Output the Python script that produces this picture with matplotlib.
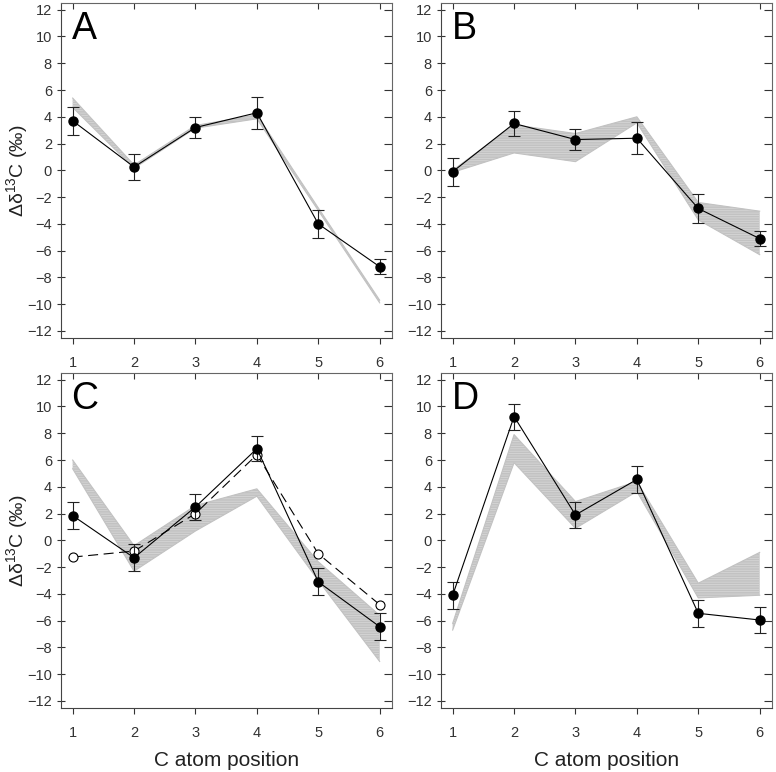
import numpy as np
import matplotlib
matplotlib.use("Agg")
import matplotlib.pyplot as plt

plt.rcParams['font.family'] = ['Liberation Sans Narrow', 'Liberation Sans', 'DejaVu Sans']
plt.rcParams['mathtext.default'] = 'regular'
plt.rcParams['hatch.linewidth'] = 0.6

# ------------------------------------------------------------------
# Data
# ------------------------------------------------------------------
positions = [1, 2, 3, 4, 5, 6]

a_mean = [3.7, 0.25, 3.2, 4.3, -4.0, -7.2]
a_err = [1.05, 0.95, 0.76, 1.2, 1.05, 0.55]
a_band_hi = [5.4, 0.4, 3.35, 4.15, -2.8, -9.7]
a_band_lo = [4.7, 0.15, 3.15, 3.85, -3.0, -9.9]

b_mean = [-0.1, 3.5, 2.3, 2.4, -2.85, -5.1]
b_err = [1.05, 0.97, 0.78, 1.2, 1.06, 0.58]
b_band_hi = [0.0, 3.4, 2.75, 4.0, -2.4, -3.05]
b_band_lo = [-0.15, 1.3, 0.65, 3.55, -3.7, -6.3]

c_mean = [1.85, -1.3, 2.5, 6.85, -3.1, -6.45]
c_err = [1.0, 1.0, 1.0, 0.95, 1.0, 1.0]
c_open = [-1.25, -0.8, 2.0, 6.4, -1.0, -4.8]
c_band_hi = [6.0, -0.4, 2.6, 3.85, -1.6, -5.6]
c_band_lo = [5.35, -2.3, 0.7, 3.3, -3.0, -9.05]

d_mean = [-4.1, 9.25, 1.9, 4.55, -5.45, -5.95]
d_err = [1.0, 0.97, 1.0, 1.0, 1.0, 1.0]
d_band_hi = [-6.2, 7.9, 2.9, 4.4, -3.2, -0.9]
d_band_lo = [-6.7, 5.8, 0.9, 3.65, -4.3, -4.1]

panels = [
    ("A", a_mean, a_err, a_band_lo, a_band_hi, None),
    ("B", b_mean, b_err, b_band_lo, b_band_hi, None),
    ("C", c_mean, c_err, c_band_lo, c_band_hi, c_open),
    ("D", d_mean, d_err, d_band_lo, d_band_hi, None),
]

# axes boxes in figure fractions (left, bottom, width, height)
boxes = [
    (0.0786, 0.5626, 0.4265, 0.4335),
    (0.5683, 0.5626, 0.4265, 0.4335),
    (0.0786, 0.0833, 0.4265, 0.4335),
    (0.5683, 0.0833, 0.4265, 0.4335),
]

fig = plt.figure(figsize=(7.76, 7.72), dpi=100)

for i, (letter, mean, err, lo, hi, opn) in enumerate(panels):
    ax = fig.add_axes(boxes[i])

    # shaded model range
    ax.fill_between(positions, lo, hi, facecolor='#c2c2c2', edgecolor='#d6d6d6',
                    hatch='-------', linewidth=0, zorder=1)
    ax.plot(positions, hi, color='#c2c2c2', lw=0.8, zorder=1)
    ax.plot(positions, lo, color='#c2c2c2', lw=0.8, zorder=1)

    if opn is not None:
        ax.plot(positions, opn, color='k', lw=0.8, dashes=(9, 5), marker='o',
                ms=6.5, mfc='white', mec='k', mew=0.8, zorder=3)

    ax.errorbar(positions, mean, yerr=err, color='k', lw=0.8, ecolor='#222222',
                elinewidth=0.8, capsize=4, capthick=0.8, marker='o', ms=6.5,
                mfc='k', mec='k', zorder=4)

    ax.set_xlim(0.81, 6.2)
    ax.set_ylim(-12.5, 12.5)
    ax.set_xticks(positions)
    ax.set_yticks(np.arange(-12, 13, 2))
    ax.tick_params(axis='both', labelsize=10.5, colors='#333333', length=4, width=0.8)
    ax.tick_params(axis='x', direction='out', top=True, pad=9)
    ax.tick_params(axis='y', direction='inout', right=True, length=6)
    ax.tick_params(which='both', labeltop=False, labelright=False)
    for side in ['top', 'right']:
        ax.spines[side].set_color('#666666')
    for side in ['left', 'bottom']:
        ax.spines[side].set_color('#444444')
    for t in ax.xaxis.get_major_ticks():
        t.tick2line.set_marker(3)  # top ticks point inward
    for t in ax.yaxis.get_major_ticks():
        t.tick2line.set_marker(0)  # right ticks point inward

    ax.text(0.032, 0.975, letter, transform=ax.transAxes, ha='left', va='top',
            fontsize=27, family='Liberation Sans')

    if i in (0, 2):
        ax.set_ylabel('Δδ$^{13}$C (‰)', fontsize=14, color='#222222')
        ax.yaxis.set_label_coords(-0.094, 0.5)
    if i in (2, 3):
        ax.set_xlabel('C atom position', fontsize=15, color='#222222')
        ax.xaxis.set_label_coords(0.5, -0.13)

plt.savefig('out.png', dpi=100)
plt.close(fig)
